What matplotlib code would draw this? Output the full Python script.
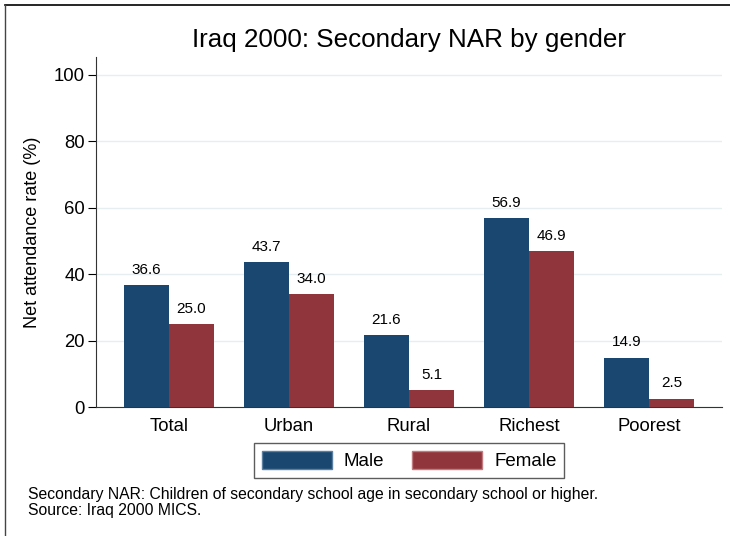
import numpy as np
import matplotlib.pyplot as plt
from matplotlib.lines import Line2D
from matplotlib.patches import Patch

plt.rcParams["font.family"] = ["Liberation Sans", "DejaVu Sans"]

groups = ["Total", "Urban", "Rural", "Richest", "Poorest"]
male = [36.6, 43.7, 21.6, 56.9, 14.9]
female = [25.0, 34.0, 5.1, 46.9, 2.5]
yticks = [0, 20, 40, 60, 80, 100]

malecolor = "#1a476f"
femalecolor = "#90353b"

fig = plt.figure(figsize=(7.3, 5.36), dpi=100)
ax = fig.add_axes([96/730, 1-407/536, (722-96)/730, (407-57)/536])

x = np.arange(len(groups))
w = 0.375
b1 = ax.bar(x-w/2, male, w, color=malecolor, zorder=3)
b2 = ax.bar(x+w/2, female, w, color=femalecolor, zorder=3)
for bars, vals in [(b1, male), (b2, female)]:
    for r, v in zip(bars, vals):
        ax.annotate(f"{v:.1f}", (r.get_x()+r.get_width()/2, v), xytext=(0, 6),
                    textcoords="offset points", ha="center", va="bottom", fontsize=11)

ax.set_xlim(-0.608, 4.608)
ax.set_ylim(0, 105.4)
ax.set_xticks(x)
ax.set_xticklabels(groups, fontsize=13.3)
ax.tick_params(axis="x", length=0, pad=8)
ax.set_yticks(yticks)
ax.set_yticklabels([str(t) for t in yticks], fontsize=13.3)
ax.tick_params(axis="y", length=6, width=0.8, pad=2)
ax.set_ylabel("Net attendance rate (%)", fontsize=13, labelpad=9)
ax.grid(axis="y", color="#e6eef0", linewidth=1, zorder=0)
ax.spines["top"].set_visible(False)
ax.spines["right"].set_visible(False)
ax.spines["left"].set_color("#333333")
ax.spines["bottom"].set_color("#333333")

fig.text(409/730, 1-40/536, "Iraq 2000: Secondary NAR by gender", ha="center", va="center", fontsize=18.7)

handles = [Patch(facecolor=malecolor, edgecolor="#5a7fa0", label="Male"),
           Patch(facecolor=femalecolor, edgecolor="#c07a80", label="Female")]
leg = fig.legend(handles=handles, loc="center", bbox_to_anchor=(409/730, 1-460.5/536), ncol=2,
                 fontsize=13.5, frameon=True, fancybox=False, edgecolor="#333333",
                 handlelength=3.73, handleheight=1.07, columnspacing=1.5, handletextpad=0.64,
                 borderpad=0.4)
leg.get_frame().set_linewidth(1)

fig.text(28/730, 1-495/536, "Secondary NAR: Children of secondary school age in secondary school or higher.",
         ha="left", va="center", fontsize=11.3)
fig.text(28/730, 1-510/536, "Source: Iraq 2000 MICS.", ha="left", va="center", fontsize=11.3)

fig.add_artist(Line2D([5/730, 1], [1-5/536, 1-5/536], color="black", linewidth=1.2))
fig.add_artist(Line2D([5/730, 5/730], [0, 1-5/536], color="#444444", linewidth=1))

fig.savefig("out.png", dpi=100)
